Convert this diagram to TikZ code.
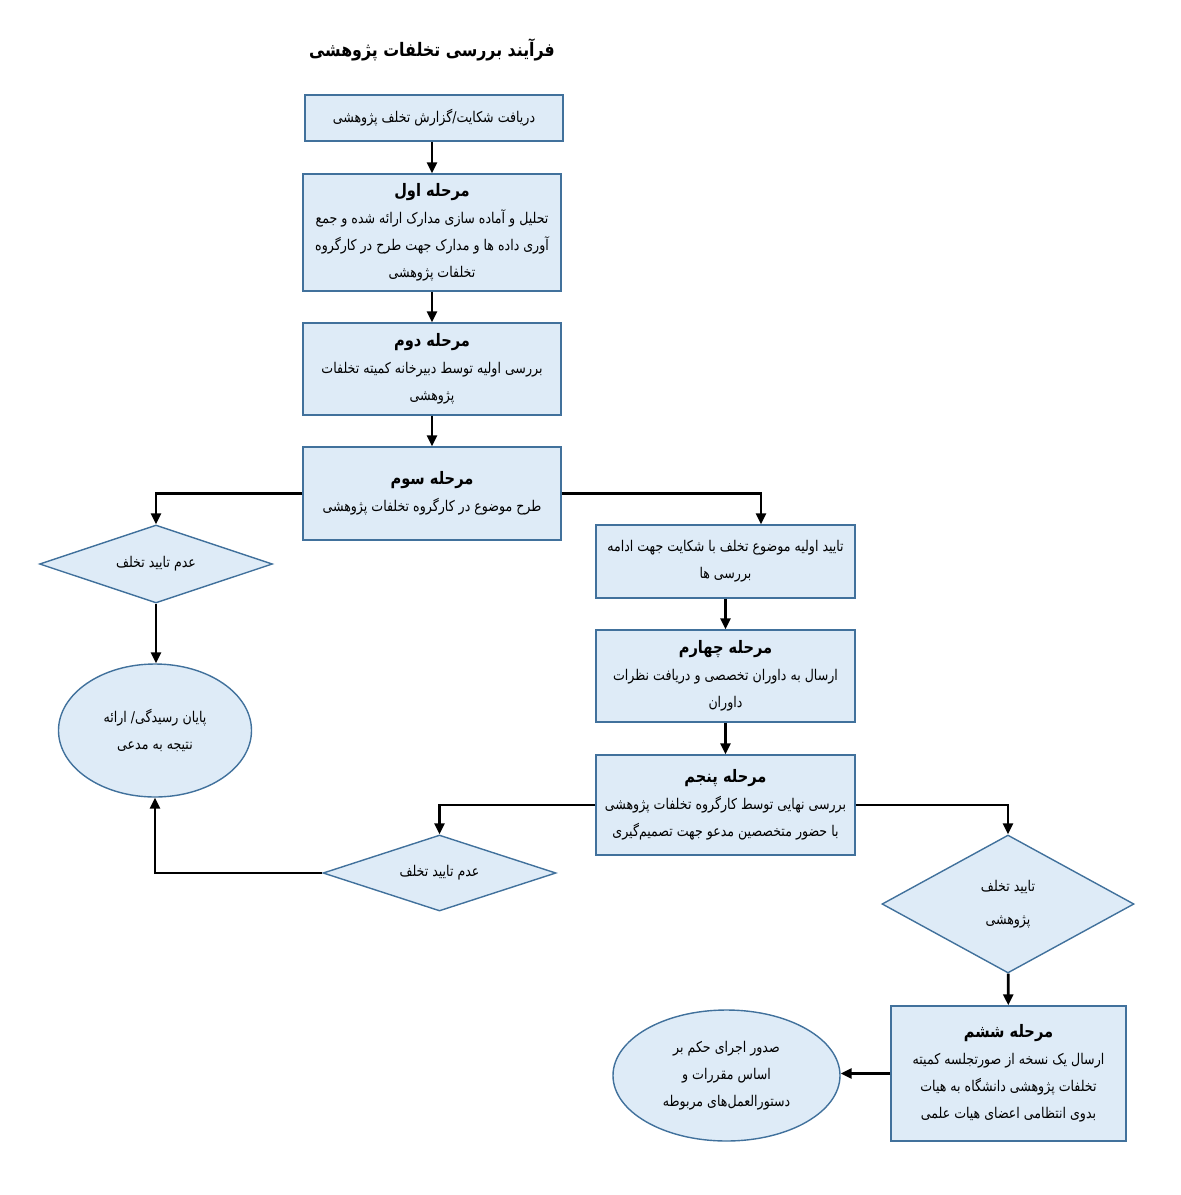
\documentclass[tikz,border=0pt]{standalone}
\usepackage{fontspec}
\usetikzlibrary{shapes.geometric,arrows.meta,positioning}
\TeXXeTstate=1
\newfontfamily\arabicfont[Script=Arabic,FakeStretch=0.85]{DejaVu Sans}
\newcommand{\fa}[1]{\beginR #1\endR}
\newcommand{\hd}[1]{{\bfseries\fontsize{8.6}{14}\selectfont\beginR #1\endR}}
\definecolor{boxfill}{RGB}{222,235,247}
\definecolor{boxline}{RGB}{65,113,156}
\tikzset{
  shape base/.style={draw=boxline, fill=boxfill, line width=0.7pt, align=center,
    inner sep=1pt, font=\arabicfont\fontsize{7.4}{13.5}\selectfont},
  stepbox/.style={shape base, rectangle},
  decision/.style={shape base, diamond, aspect=3},
  endnode/.style={shape base, ellipse},
  arr/.style={-{Triangle[length=5.5pt,width=5pt]}, line width=1.35pt},
}
\begin{document}
\begin{tikzpicture}[x=0.5pt, y=-0.5pt]
  \useasboundingbox (0,0) rectangle (1181,1195);
  % title
  \node (title) at (432,50) {\arabicfont\bfseries\fontsize{9.3}{14}\selectfont\fa{فرآیند بررسی تخلفات پژوهشی}};
  % main column
  \node[stepbox, minimum width=129pt, minimum height=23pt] (recv) at (434,118)
    {\fa{دریافت شکایت/گزارش تخلف پژوهشی}};
  \node[stepbox, minimum width=129pt, minimum height=58.5pt] (st1) at (432,232.5)
    {\hd{مرحله اول}\\ \fa{تحلیل و آماده سازی مدارک ارائه شده و جمع}\\
     \fa{آوری داده ها و مدارک جهت طرح در کارگروه}\\ \fa{تخلفات پژوهشی}};
  \node[stepbox, minimum width=129pt, minimum height=46pt] (st2) at (432,369)
    {\hd{مرحله دوم}\\ \fa{بررسی اولیه توسط دبیرخانه کمیته تخلفات}\\ \fa{پژوهشی}};
  \node[stepbox, minimum width=129pt, minimum height=46.5pt] (st3) at (432,493.5)
    {\hd{مرحله سوم}\\ \fa{طرح موضوع در کارگروه تخلفات پژوهشی}};
  % left branch
  \node[decision, minimum width=116.5pt, minimum height=39pt, inner sep=0pt] (rej1) at (156,564)
    {\fa{عدم تایید تخلف}};
  \node[endnode, minimum width=96.5pt, minimum height=66.5pt] (end1) at (155,730.5)
    {\fa{پایان رسیدگی/ ارائه}\\ \fa{نتیجه به مدعی}};
  % right column
  \node[stepbox, minimum width=129.5pt, minimum height=36.5pt] (conf1) at (725.5,561.5)
    {\fa{تایید اولیه موضوع تخلف با شکایت جهت ادامه}\\ \fa{بررسی ها}};
  \node[stepbox, minimum width=129.5pt, minimum height=46pt] (st4) at (725.5,676)
    {\hd{مرحله چهارم}\\ \fa{ارسال به داوران تخصصی و دریافت نظرات}\\ \fa{داوران}};
  \node[stepbox, minimum width=129.5pt, minimum height=50pt] (st5) at (725.5,805)
    {\hd{مرحله پنجم}\\ \fa{بررسی نهایی توسط کارگروه تخلفات پژوهشی}\\
     \fa{با حضور متخصصین مدعو جهت تصمیم‌گیری}};
  \node[decision, minimum width=116.5pt, minimum height=38pt, inner sep=0pt] (rej2) at (439.5,873)
    {\fa{عدم تایید تخلف}};
  \node[decision, aspect=1.8, minimum width=126pt, minimum height=69pt, inner sep=0pt,
    font=\arabicfont\fontsize{7.4}{16.5}\selectfont] (conf2) at (1008,904)
    {\fa{تایید تخلف}\\ \fa{پژوهشی}};
  \node[stepbox, minimum width=117.5pt, minimum height=67.5pt] (st6) at (1008.5,1073.5)
    {\hd{مرحله ششم}\\ \fa{ارسال یک نسخه از صورتجلسه کمیته}\\
     \fa{تخلفات پژوهشی دانشگاه به هیات}\\ \fa{بدوی انتظامی اعضای هیات علمی}};
  \node[endnode, minimum width=113.5pt, minimum height=65.5pt] (end2) at (726.5,1075.5)
    {\fa{صدور اجرای حکم بر}\\ \fa{اساس مقررات و}\\ \fa{دستورالعمل‌های مربوطه}};
  % connectors
  \draw[arr] (recv.south -| st1.north) -- (st1.north);
  \draw[arr] (st1) -- (st2);
  \draw[arr] (st2) -- (st3);
  \draw[arr] (st3.west) -| (rej1.north);
  \draw[arr] (st3.east) -| ([xshift=17.75pt]conf1.north);
  \draw[arr] (rej1.south) -- (rej1.south |- end1.north);
  \draw[arr] (conf1) -- (st4);
  \draw[arr] (st4) -- (st5);
  \draw[arr] (st5.west) -| (rej2.north);
  \draw[arr] (st5.east) -| (conf2.north);
  \draw[arr] (rej2.west) -| (end1.south);
  \draw[arr] (conf2) -- (st6);
  \draw[arr] (st6.west) -- (st6.west -| end2.east);
\end{tikzpicture}
\end{document}
